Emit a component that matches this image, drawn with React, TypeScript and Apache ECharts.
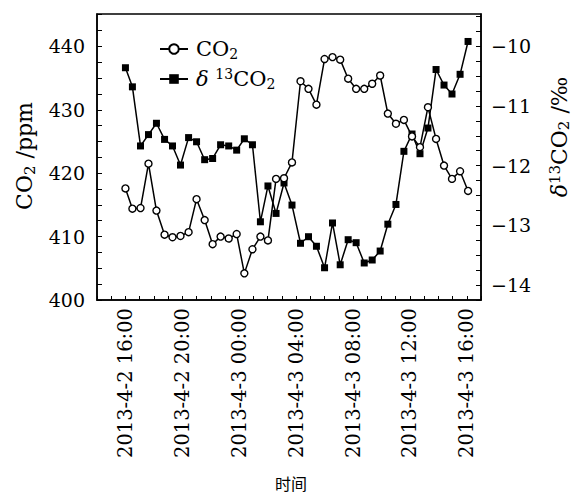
import React, { useEffect, useRef } from "react";
import * as echarts from "echarts";

// hours since 2013-4-2 00:00
const hours = [
  16.0, 16.49, 17.06, 17.62, 18.18, 18.75, 19.31, 19.87, 20.44, 21.0, 21.57, 22.13, 22.69, 23.26, 23.82,
  24.36, 24.93, 25.49, 26.02, 26.59, 27.15, 27.71, 28.31, 28.87, 29.43, 30.0, 30.56, 31.1, 31.66, 32.22,
  32.79, 33.35, 33.91, 34.45, 35.02, 35.58, 36.15, 36.71, 37.27, 37.84, 38.4, 38.96, 39.53, 40.09,
];
const co2 = [
  417.6, 414.4, 414.5, 421.5, 414.1, 410.3, 409.9, 410.1, 410.7, 415.9, 412.6, 408.8, 410.0, 409.7, 410.4,
  404.2, 408.0, 410.0, 409.4, 419.1, 419.2, 421.7, 434.5, 433.3, 430.8, 438.0, 438.3, 437.9, 434.9, 433.3,
  433.3, 434.1, 435.4, 429.4, 427.8, 428.4, 425.8, 424.1, 430.4, 425.4, 421.2, 419.1, 420.3, 417.2,
];
const d13c = [
  -10.36, -10.68, -11.67, -11.48, -11.29, -11.56, -11.67, -11.99, -11.53, -11.6, -11.9, -11.88, -11.65, -11.67, -11.74,
  -11.55, -11.65, -12.94, -12.34, -12.8, -12.29, -12.66, -13.3, -13.19, -13.35, -13.71, -12.96, -13.66, -13.24, -13.29,
  -13.63, -13.58, -13.43, -12.98, -12.65, -11.76, -11.47, -11.8, -11.37, -10.39, -10.65, -10.8, -10.47, -9.92,
];
const xTickHours = [16, 20, 24, 28, 32, 36, 40];
const xTickLabels = [
  "2013-4-2 16:00",
  "2013-4-2 20:00",
  "2013-4-3 00:00",
  "2013-4-3 04:00",
  "2013-4-3 08:00",
  "2013-4-3 12:00",
  "2013-4-3 16:00",
];
const leftTicks = [400, 410, 420, 430, 440];
const rightTicks = [-14, -13, -12, -11, -10];

export default function App() {
  const ref = useRef<HTMLDivElement>(null);
  useEffect(() => {
    const chart = echarts.init(ref.current!, null, { renderer: "svg" });
    const font = "'DejaVu Serif', 'Liberation Serif', serif";
    const rich = {
      sub: { fontSize: 14, lineHeight: 12, verticalAlign: "bottom", fontFamily: font, color: "#000" },
      sup: { fontSize: 14, lineHeight: 16, verticalAlign: "top", fontFamily: font, color: "#000" },
      it: { fontStyle: "italic", fontFamily: font, fontSize: 21, lineHeight: 24, color: "#000" },
    };
    const black = "#000";
    chart.setOption({
      animation: false,
      backgroundColor: "#fff",
      grid: {
        left: 97,
        right: 93,
        top: 14,
        bottom: 196,
        show: true,
        borderColor: black,
        borderWidth: 1.5,
        backgroundColor: "transparent",
      },
      legend: {
        orient: "vertical",
        left: 154,
        top: 32,
        itemWidth: 28,
        itemHeight: 12,
        itemGap: 6,
        data: ["CO₂", "δ¹³CO₂"],
        formatter: (n: string) => (n === "CO₂" ? "CO{sub|2}" : "{it|δ} {sup|13}CO{sub|2}"),
        textStyle: {
          fontFamily: font,
          fontSize: 21,
          lineHeight: 24,
          color: black,
          padding: [0, 0, 0, 3],
          rich,
        },
      },
      xAxis: {
        type: "value",
        min: 14,
        max: 41,
        interval: 1,
        splitLine: { show: false },
        axisLine: { show: true, lineStyle: { color: black, width: 1.5 } },
        axisTick: { show: true, inside: true, length: 4, lineStyle: { color: black, width: 1 } },
        axisLabel: {
          rotate: 90,
          margin: 8,
          fontFamily: font,
          fontSize: 19.5,
          color: black,
          formatter: (v: number) => {
            const i = xTickHours.indexOf(Math.round(v));
            return i >= 0 && Math.abs(v - Math.round(v)) < 1e-6 ? xTickLabels[i] : "";
          },
        },
      },
      yAxis: [
        {
          type: "value",
          position: "left",
          min: 400,
          max: 445.1,
          interval: 2.5,
          splitLine: { show: false },
          axisLine: { show: true, lineStyle: { color: black, width: 1.5 } },
          axisTick: { show: true, inside: true, length: 5, lineStyle: { color: black, width: 1 } },
          axisLabel: {
            margin: 12,
            fontFamily: font,
            fontSize: 19,
            color: black,
            showMaxLabel: false,
            formatter: (v: number) => (leftTicks.indexOf(v) >= 0 ? String(v) : ""),
          },
        },
        {
          type: "value",
          position: "right",
          min: -14.25,
          max: -9.46,
          interval: 0.25,
          alignTicks: false,
          splitLine: { show: false },
          axisLine: { show: true, lineStyle: { color: black, width: 1.5 } },
          axisTick: { show: true, inside: true, length: 5, lineStyle: { color: black, width: 1 } },
          axisLabel: {
            margin: 10,
            fontFamily: font,
            fontSize: 19,
            color: black,
            showMaxLabel: false,
            formatter: (v: number) => {
              const r = Math.round(v);
              return Math.abs(v - r) < 1e-6 && rightTicks.indexOf(r) >= 0 ? "−" + Math.abs(r) : "";
            },
          },
        },
      ],
      series: [
        {
          name: "CO₂",
          type: "line",
          yAxisIndex: 0,
          data: hours.map((h, i) => [h, co2[i]]),
          symbol: "circle",
          symbolSize: 7,
          itemStyle: { color: "#fff", borderColor: black, borderWidth: 1.4 },
          lineStyle: { color: black, width: 1.5 },
          z: 3,
        },
        {
          name: "δ¹³CO₂",
          type: "line",
          yAxisIndex: 1,
          data: hours.map((h, i) => [h, d13c[i]]),
          symbol: "rect",
          symbolSize: 7,
          itemStyle: { color: black },
          lineStyle: { color: black, width: 1.5 },
          z: 2,
        },
      ],
      graphic: [
        {
          type: "text",
          x: 24,
          y: 156,
          rotation: Math.PI / 2,
          style: {
            text: "CO{sub|2} /ppm",
            fontFamily: font,
            fontSize: 22,
            lineHeight: 26,
            fill: black,
            align: "center",
            verticalAlign: "middle",
            rich: {
              sub: { fontSize: 15, lineHeight: 13, verticalAlign: "bottom", fontFamily: font, color: "#000" },
            },
          },
        },
        {
          type: "text",
          x: 559,
          y: 137,
          rotation: Math.PI / 2,
          style: {
            text: "{it|δ}{sup|13}CO{sub|2} /‰",
            fontFamily: font,
            fontSize: 22,
            lineHeight: 24,
            fill: black,
            align: "center",
            verticalAlign: "middle",
            rich: {
              sub: { fontSize: 15, lineHeight: 12, verticalAlign: "bottom", fontFamily: font, color: "#000" },
              sup: { fontSize: 15, lineHeight: 16, verticalAlign: "top", fontFamily: font, color: "#000" },
              it: { fontStyle: "italic", fontFamily: font, fontSize: 22, lineHeight: 24, color: "#000" },
            },
          },
        },
        {
          type: "text",
          x: 291,
          y: 483,
          style: {
            text: "时间",
            fontFamily: "'Noto Sans CJK SC', sans-serif",
            fontSize: 16,
            fill: black,
            align: "center",
            verticalAlign: "middle",
          },
        },
      ],
    });
    return () => chart.dispose();
  }, []);
  return <div ref={ref} style={{ position: "fixed", left: 0, top: 0, width: 574, height: 496 }} />;
}
